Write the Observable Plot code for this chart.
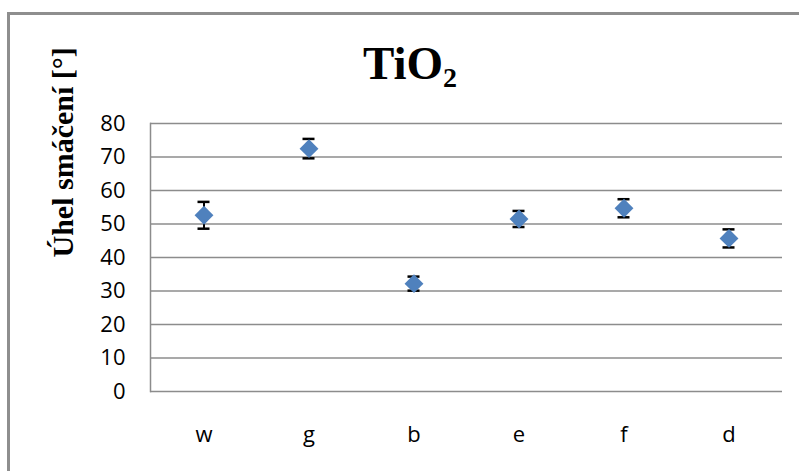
<!DOCTYPE html>
<html>
<head>
<meta charset="utf-8">
<script src="https://cdn.jsdelivr.net/npm/d3@7"></script>
<script src="https://cdn.jsdelivr.net/npm/@observablehq/plot@0.6"></script>
<style>
  html, body { margin: 0; padding: 0; background: #fff; }
  #wrap { position: relative; width: 799px; height: 471px; overflow: hidden; background: #fff; }
  #border { position: absolute; left: 7px; top: 12px; width: 900px; height: 600px;
            border-left: 3px solid #8e8e8e; border-top: 3px solid #8e8e8e; box-sizing: border-box; pointer-events: none; }
  #title { position: absolute; left: 0; top: 40px; width: 820px; text-align: center;
           font-family: 'Liberation Serif', 'Times New Roman', serif; font-weight: bold; font-size: 47px; line-height: 47px; color: #000; }
  #title span { font-size: 28px; position: relative; top: 8px; }
  #chart { position: absolute; left: 0; top: 0; }
</style>
</head>
<body>
<div id="wrap">
  <div id="border"></div>
  <div id="chart"></div>
  <div id="title"></div>
</div>
<script>
const categories = ["w", "g", "b", "e", "f", "d"];
const values = [52.6, 72.5, 32.2, 51.5, 54.7, 45.7];
const errors = [4.0, 2.9, 2.1, 2.4, 2.7, 2.7];
const yTicks = [0, 10, 20, 30, 40, 50, 60, 70, 80];
const titleMain = "TiO";
const titleSub = "2";
const yTitle = "Úhel smáčení [°]";

const data = categories.map((c, i) => ({cat: c, v: values[i], lo: values[i] - errors[i], hi: values[i] + errors[i]}));

const t = document.getElementById("title");
t.append(titleMain);
const sub = document.createElement("span");
sub.textContent = titleSub;
t.append(sub);

const grid = "#8c8c8c";
const chart = Plot.plot({
  width: 799,
  height: 471,
  marginLeft: 150,
  marginRight: 17,
  marginTop: 123,
  marginBottom: 80,
  style: {background: "transparent", fontFamily: "'Open Sans', sans-serif", color: "#000"},
  x: {domain: categories, padding: 0},
  y: {domain: [0, 80]},
  marks: [
    Plot.ruleY(yTicks, {stroke: grid, strokeWidth: 1.5}),
    Plot.frame({anchor: "left", stroke: grid, strokeWidth: 1.5}),
    Plot.axisY(yTicks, {tickSize: 0, tickPadding: 25, fontSize: 22, label: null, fill: "#000"}),
    Plot.axisX({tickSize: 0, tickPadding: 35, fontSize: 22, label: null, fill: "#000"}),
    Plot.ruleX(data, {x: "cat", y1: "lo", y2: "hi", stroke: "#000", strokeWidth: 2}),
    Plot.tickY(data, {x: "cat", y: "lo", insetLeft: 46.5, insetRight: 46.5, stroke: "#000", strokeWidth: 2.5}),
    Plot.tickY(data, {x: "cat", y: "hi", insetLeft: 46.5, insetRight: 46.5, stroke: "#000", strokeWidth: 2.5}),
    Plot.dot(data, {x: "cat", y: "v", symbol: "diamond2", r: 8.5, fill: "#4F81BD", stroke: "none"}),
    Plot.text([yTitle], {frameAnchor: "left", dx: -87, rotate: -90, fontSize: 30, fontWeight: "bold",
      fontFamily: "'Liberation Serif', 'Times New Roman', serif", fill: "#000"})
  ]
});
document.getElementById("chart").append(chart);
</script>
</body>
</html>
